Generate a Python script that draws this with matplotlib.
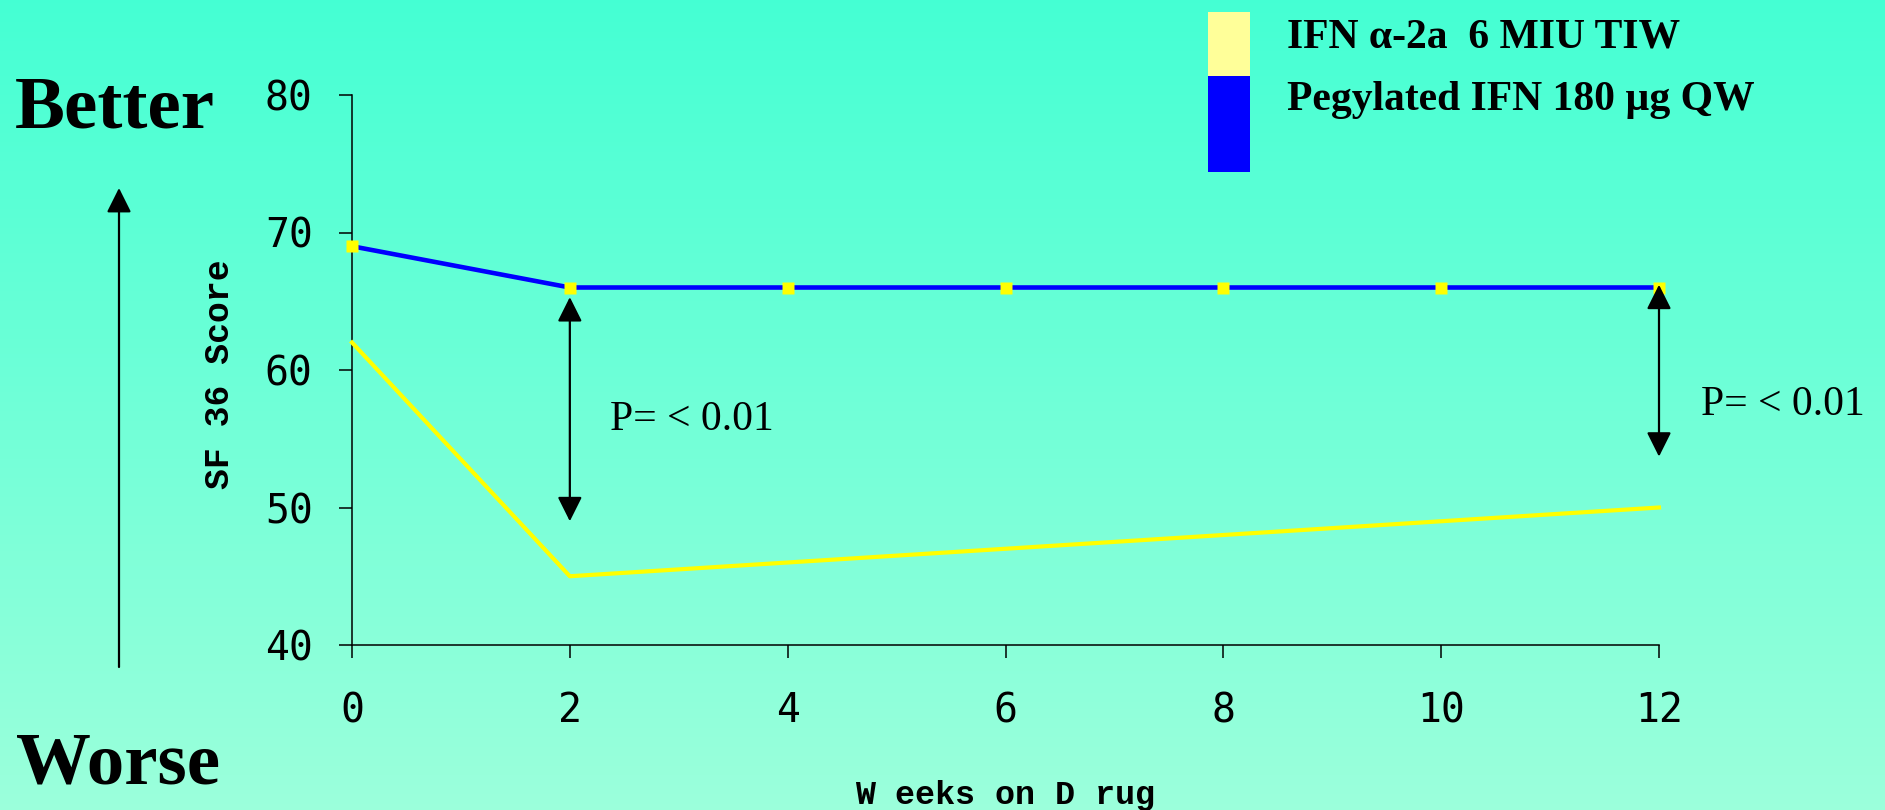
import numpy as np
import matplotlib
matplotlib.use("Agg")
import matplotlib.pyplot as plt
from matplotlib.patches import FancyArrowPatch, Rectangle, ArrowStyle

# ---- data ----
weeks = [0, 2, 4, 6, 8, 10, 12]
peg_ifn = [69, 66, 66, 66, 66, 66, 66]
ifn_a2a = [62, 45, 46, 47, 48, 49, 50]
series_labels = ["IFN \u03b1-2a  6 MIU TIW", "Pegylated IFN 180 \u00b5g QW"]
x_ticks = [0, 2, 4, 6, 8, 10, 12]
y_ticks = [40, 50, 60, 70, 80]
x_label = "W eeks on D rug"
y_label = "SF 36 Score"
p_text = "P= < 0.01"
arrow_x = [2, 12]
arrow_top = [65.3, 66.2]
arrow_bottom = [49.0, 53.7]
p_pos_x = [2.37, 12.39]
p_pos_y = [55.6, 56.7]

W, H = 1885, 810
fig = plt.figure(figsize=(W / 100, H / 100), dpi=100)

# background gradient
bg = fig.add_axes([0, 0, 1, 1], zorder=-10)
c_top = np.array([0.27, 1.0, 0.83])
c_bot = np.array([0.61, 1.0, 0.86])
t = np.linspace(0, 1, 256)[:, None]
grad = c_top * (1 - t) + c_bot * t
bg.imshow(grad[:, None, :], aspect="auto", extent=[0, 1, 0, 1], origin="upper")
bg.set_axis_off()

# main axes
ax = fig.add_axes([352 / W, 1 - 645 / H, 1307 / W, 550 / H])
ax.patch.set_alpha(0)
ax.plot(weeks, ifn_a2a, color="#FFFF00", lw=3.0, clip_on=False, zorder=3)
ax.plot(weeks, peg_ifn, color="#0000FF", lw=3.3, marker="s", ms=8.6,
        mfc="#FFFF00", mec="none", clip_on=False, zorder=4)
ax.set_xlim(0, 12)
ax.set_ylim(40, 80)
ax.set_xticks(x_ticks)
ax.set_yticks(y_ticks)
for s in ["top", "right"]:
    ax.spines[s].set_visible(False)
for s in ["left", "bottom"]:
    ax.spines[s].set_linewidth(1.1)
    ax.spines[s].set_color("black")
ax.tick_params(direction="out", length=9.4, width=1.1, colors="black")
ax.tick_params(axis="x", pad=24)
ax.tick_params(axis="y", pad=19)
for lab in ax.get_xticklabels() + ax.get_yticklabels():
    lab.set_fontfamily("DejaVu Sans Mono")
    lab.set_fontsize(28.6)

ax.set_xlabel(x_label, fontfamily="Liberation Mono", fontweight="bold",
              fontsize=24, va="baseline")
ax.xaxis.set_label_coords((1005 - 352) / 1307, (645 - 804) / 550)
ax.set_ylabel(y_label, fontfamily="Liberation Mono", fontweight="bold",
              fontsize=25, va="center")
ax.yaxis.set_label_coords((219.5 - 352) / 1307, (645 - 374.5) / 550)

# significance arrows and text
style = ArrowStyle("<|-|>", head_length=15, head_width=7.5)
for x, y0, y1 in zip(arrow_x, arrow_bottom, arrow_top):
    ax.add_patch(FancyArrowPatch((x, y0), (x, y1), arrowstyle=style,
                                 mutation_scale=1, lw=1.6, color="black",
                                 shrinkA=0, shrinkB=0, clip_on=False, zorder=5))
for x, y in zip(p_pos_x, p_pos_y):
    ax.text(x, y, p_text, fontfamily="Liberation Serif", fontsize=30,
            ha="left", va="baseline", clip_on=False)

# Better / Worse arrow
fig.add_artist(FancyArrowPatch((119 / W, 1 - 667 / H), (119 / W, 1 - 188 / H),
                               transform=fig.transFigure,
                               arrowstyle=ArrowStyle("-|>", head_length=15, head_width=7.5),
                               mutation_scale=1, lw=1.6, color="black",
                               shrinkA=0, shrinkB=0))
fig.text(15 / W, 1 - 127 / H, "Better", fontfamily="Liberation Serif",
         fontweight="bold", fontsize=54, ha="left", va="baseline")
fig.text(16 / W, 1 - 783 / H, "Worse", fontfamily="Liberation Serif",
         fontweight="bold", fontsize=54, ha="left", va="baseline")

# legend
fig.add_artist(Rectangle((1208 / W, 1 - 76 / H), 42 / W, 64 / H,
                         transform=fig.transFigure, facecolor="#FFFF99", edgecolor="none"))
fig.add_artist(Rectangle((1208 / W, 1 - 172 / H), 42 / W, 96 / H,
                         transform=fig.transFigure, facecolor="#0000FF", edgecolor="none"))
fig.text(1287 / W, 1 - 48 / H, series_labels[0], fontfamily="Liberation Serif",
         fontweight="bold", fontsize=30, ha="left", va="baseline")
fig.text(1287 / W, 1 - 110 / H, series_labels[1], fontfamily="Liberation Serif",
         fontweight="bold", fontsize=30, ha="left", va="baseline")

fig.savefig("out.png", dpi=100)
